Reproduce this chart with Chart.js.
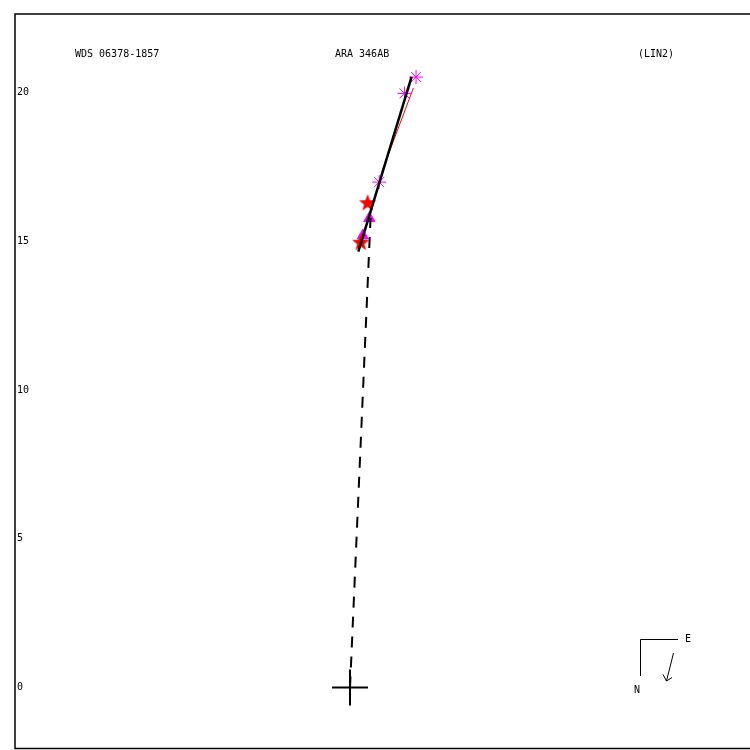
<!DOCTYPE html>
<html>
<head>
<meta charset="utf-8">
<script src="https://cdn.jsdelivr.net/npm/chart.js@4.4.0/dist/chart.umd.min.js"></script>
<style>
  html, body { margin: 0; padding: 0; overflow: hidden; background: #fff; }
  canvas { display: block; }
</style>
</head>
<body>
<canvas id="orbit" width="760" height="750"></canvas>
<script>
// header texts
var headers = ["WDS 06378-1857", "ARA 346AB", "(LIN2)"];
var tickValues = [0, 5, 10, 15, 20];

// observations (arcsec)
var asteriskX = [2.22, 1.83, 0.98];
var asteriskY = [20.52, 19.97, 16.99];
var starX = [0.59, 0.36];
var starY = [16.28, 14.95];
var triX = [0.65, 0.43];
var triY = [15.77, 15.19];

// linear fit and helper lines
var fitX = [2.07, 0.28];
var fitY = [20.53, 14.65];
var redX = [2.13, 1.07];
var redY = [20.15, 17.34];
var dashX = [0, 0.69];
var dashY = [0, 15.78];
var primaryX = [0];
var primaryY = [0];

function pts(xs, ys) {
  return xs.map(function (x, i) { return { x: x, y: ys[i] }; });
}

// filled 5 point star marker
function makeStar(size, color) {
  var c = document.createElement("canvas");
  c.width = size; c.height = size;
  var g = c.getContext("2d");
  var cx = size / 2, cy = size / 2, ro = size / 2, ri = ro * 0.42;
  g.beginPath();
  for (var i = 0; i < 10; i++) {
    var r = i % 2 === 0 ? ro : ri;
    var a = -Math.PI / 2 + i * Math.PI / 5;
    g.lineTo(cx + r * Math.cos(a), cy + r * Math.sin(a));
  }
  g.closePath();
  g.fillStyle = color;
  g.fill();
  return c;
}
var redStar = makeStar(18, "#ff0000");

var MONO = "'DejaVu Sans Mono', monospace";

var decorations = {
  id: "decorations",
  afterDraw: function (chart) {
    var ctx = chart.ctx, a = chart.chartArea;
    ctx.save();
    // frame
    ctx.strokeStyle = "#000";
    ctx.lineWidth = 1.5;
    ctx.strokeRect(a.left, a.top, a.right - a.left, a.bottom - a.top);
    // headers
    ctx.fillStyle = "#000";
    ctx.font = "10px " + MONO;
    ctx.textBaseline = "middle";
    ctx.textAlign = "left";
    var hx = [75, 335, 638];
    headers.forEach(function (t, i) { ctx.fillText(t, hx[i], 54); });
    // compass
    ctx.lineWidth = 1;
    ctx.beginPath();
    ctx.moveTo(640.5, 676); ctx.lineTo(640.5, 639.5); ctx.lineTo(678, 639.5);
    ctx.moveTo(673.5, 653); ctx.lineTo(666.5, 681);
    ctx.lineTo(663, 674.5);
    ctx.moveTo(666.5, 681); ctx.lineTo(672, 677.5);
    ctx.stroke();
    ctx.fillText("E", 685, 639);
    ctx.fillText("N", 634, 690);
    ctx.restore();
  }
};

new Chart(document.getElementById("orbit"), {
  type: "scatter",
  data: {
    datasets: [
      {
        label: "fit",
        data: pts(fitX, fitY),
        showLine: true,
        borderColor: "#000",
        borderWidth: 2.5,
        pointRadius: 0,
        order: 1
      },
      {
        label: "red",
        data: pts(redX, redY),
        showLine: true,
        borderColor: "#ff0000",
        borderWidth: 1,
        pointRadius: 0,
        order: 2
      },
      {
        label: "node",
        data: pts(dashX, dashY),
        showLine: true,
        borderColor: "#000",
        borderWidth: 2,
        borderDash: [11, 9],
        pointRadius: 0,
        order: 1
      },
      {
        label: "primary",
        data: pts(primaryX, primaryY),
        pointStyle: "cross",
        pointRadius: 18,
        borderColor: "#000",
        borderWidth: 2,
        order: 1
      },
      {
        label: "micrometer",
        data: pts(asteriskX, asteriskY),
        pointStyle: "star",
        pointRadius: 7,
        borderColor: "#ff00ff",
        borderWidth: 1,
        order: 3
      },
      {
        label: "triangles",
        data: pts(triX, triY),
        pointStyle: "triangle",
        pointRadius: 6.5,
        backgroundColor: "#ff00ff",
        borderColor: "#ff00ff",
        borderWidth: 1,
        order: 5
      },
      {
        label: "stars",
        data: pts(starX, starY),
        pointStyle: redStar,
        pointRadius: 9,
        order: 4
      }
    ]
  },
  options: {
    responsive: false,
    animation: false,
    events: [],
    layout: { autoPadding: false, padding: { left: 15, top: 14, right: 0, bottom: 1.5 } },
    plugins: {
      legend: { display: false },
      tooltip: { enabled: false },
      title: { display: false }
    },
    scales: {
      x: {
        type: "linear",
        min: -11.26,
        max: 13.78,
        display: false
      },
      y: {
        type: "linear",
        min: -2.05,
        max: 22.64,
        grid: { display: false, drawTicks: false },
        border: { display: false },
        afterFit: function (s) {
          s.width = 0;
          s.paddingTop = 0;
          s.paddingBottom = 0;
        },
        afterBuildTicks: function (s) {
          s.ticks = tickValues.map(function (v) { return { value: v }; });
        },
        ticks: {
          mirror: true,
          padding: 2,
          color: "#000",
          font: { family: MONO, size: 10 }
        }
      }
    }
  },
  plugins: [decorations]
});
</script>
</body>
</html>
